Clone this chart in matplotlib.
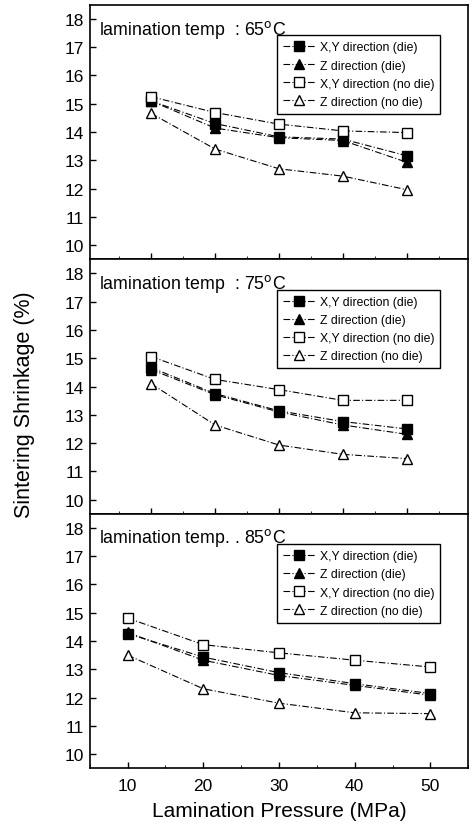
import matplotlib
matplotlib.use("Agg")
import matplotlib.pyplot as plt
from matplotlib.ticker import MultipleLocator

pressure = [10, 20, 30, 40, 50]
temps = ["65", "75", "85"]
titles = ["lamination temp  : 65$^{\\rm o}$C",
          "lamination temp  : 75$^{\\rm o}$C",
          "lamination temp. . 85$^{\\rm o}$C"]

xy_die = {
    "65": [15.1, 14.3, 13.83, 13.75, 13.16],
    "75": [14.67, 13.75, 13.14, 12.76, 12.5],
    "85": [14.26, 13.43, 12.88, 12.49, 12.14],
}
z_die = {
    "65": [15.1, 14.14, 13.8, 13.7, 12.93],
    "75": [14.6, 13.71, 13.1, 12.64, 12.31],
    "85": [14.3, 13.32, 12.78, 12.43, 12.08],
}
xy_nodie = {
    "65": [15.25, 14.69, 14.28, 14.04, 13.98],
    "75": [15.06, 14.25, 13.89, 13.51, 13.51],
    "85": [14.81, 13.87, 13.58, 13.32, 13.08],
}
z_nodie = {
    "65": [14.66, 13.4, 12.7, 12.44, 11.96],
    "75": [14.1, 12.64, 11.93, 11.6, 11.45],
    "85": [13.5, 12.31, 11.8, 11.46, 11.43],
}
labels = ["X,Y direction (die)", "Z direction (die)",
          "X,Y direction (no die)", "Z direction (no die)"]

plt.rcParams['font.family'] = ['Liberation Sans', 'DejaVu Sans']

fig = plt.figure(figsize=(4.72, 8.28), dpi=100)
left, right = 0.19, 0.992
top, bottom = 0.993, 0.071
h = (top - bottom) / 3
xlims = [(0.4, 59.6), (0.4, 59.6), (5, 55)]
dash = (0, (6, 2, 1, 2))
for i, t in enumerate(temps):
    ax = fig.add_axes([left, top - (i + 1) * h, right - left, h])
    ax.plot(pressure, xy_die[t], linestyle=dash, color='black', lw=0.8,
            marker='s', ms=7, mfc='black', mec='black', label=labels[0])
    ax.plot(pressure, z_die[t], linestyle=dash, color='black', lw=0.8,
            marker='^', ms=7, mfc='black', mec='black', label=labels[1])
    ax.plot(pressure, xy_nodie[t], linestyle=dash, color='black', lw=0.8,
            marker='s', ms=7, mfc='white', mec='black', label=labels[2])
    ax.plot(pressure, z_nodie[t], linestyle=dash, color='black', lw=0.8,
            marker='^', ms=7, mfc='white', mec='black', label=labels[3])
    ax.set_xlim(*xlims[i])
    ax.set_ylim(9.5, 18.5)
    ax.yaxis.set_major_locator(MultipleLocator(1))
    ax.xaxis.set_major_locator(MultipleLocator(10))
    ax.xaxis.set_minor_locator(MultipleLocator(5))
    ax.tick_params(direction='in', labelsize=12.5, length=4, width=1, pad=4)
    ax.tick_params(axis='x', pad=7)
    ax.tick_params(which='minor', direction='in', length=2)
    for s in ax.spines.values():
        s.set_linewidth(1.2)
    if i < 2:
        ax.tick_params(labelbottom=False)
    ax.text(0.025, 0.95, titles[i], transform=ax.transAxes, fontsize=12.8,
            va='top', ha='left')
    leg = ax.legend(loc='upper right', bbox_to_anchor=(0.926, 0.88),
                    fontsize=8.8, frameon=True, fancybox=False,
                    edgecolor='black', framealpha=1, handlelength=2.6,
                    borderpad=0.5, labelspacing=0.5, handletextpad=0.4,
                    borderaxespad=0.0)
    leg.get_frame().set_linewidth(1.0)
    if i == 2:
        ax.set_xlabel("Lamination Pressure (MPa)", fontsize=15, labelpad=6)

fig.text(0.051, 0.511, "Sintering Shrinkage (%)", rotation=90,
         fontsize=15.5, va='center', ha='center')

fig.savefig("out.png", dpi=100)
